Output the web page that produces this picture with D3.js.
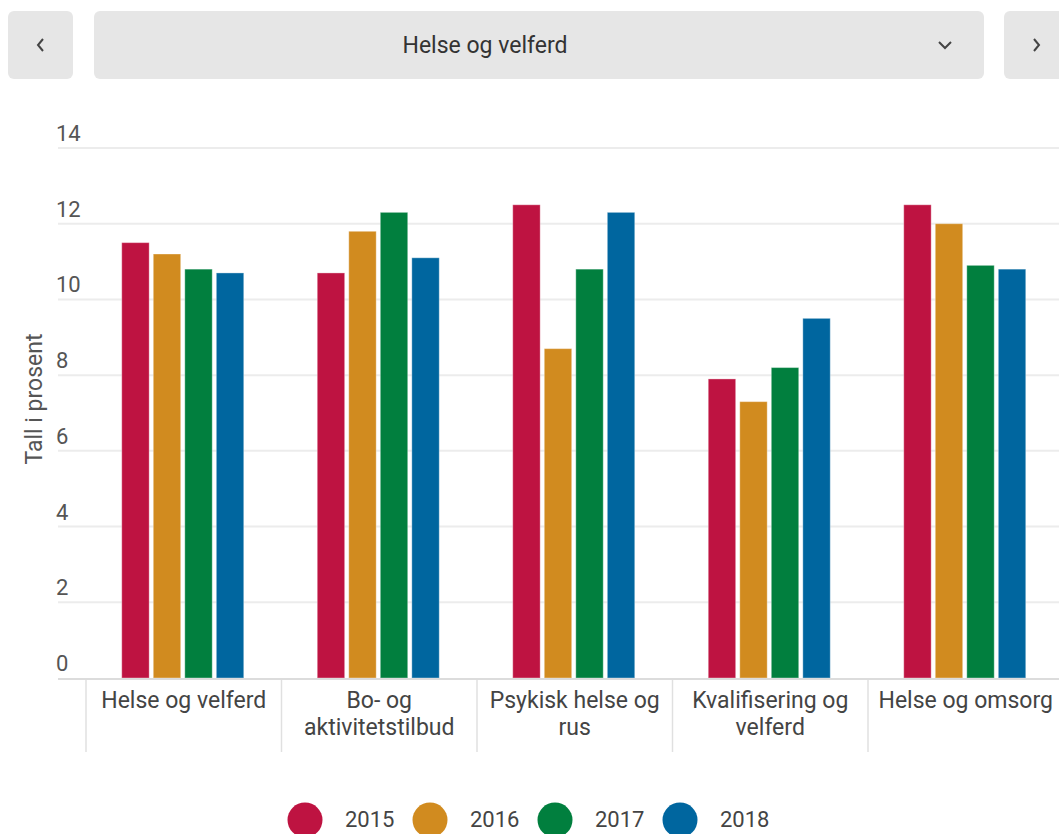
<!DOCTYPE html>
<html><head><meta charset="utf-8">
<script src="https://cdn.jsdelivr.net/npm/d3@7"></script>
<style>body{margin:0;background:#fff;overflow:hidden}svg{display:block;font-family:Roboto,sans-serif}</style>
</head><body>
<svg id="c" width="1059" height="834"></svg>
<script>
const categories = [["Helse og velferd"],["Bo- og","aktivitetstilbud"],["Psykisk helse og","rus"],["Kvalifisering og","velferd"],["Helse og omsorg"]];
const years = ["2015","2016","2017","2018"];
const v2015 = [11.5, 10.7, 12.5, 7.9, 12.5];
const v2016 = [11.2, 11.8, 8.7, 7.3, 12.0];
const v2017 = [10.8, 12.3, 10.8, 8.2, 10.9];
const v2018 = [10.7, 11.1, 12.3, 9.5, 10.8];
const yTicks = [0,2,4,6,8,10,12,14];
const colors = ["#be1341","#d18b1f","#017f3e","#00669f"];
const series = [v2015, v2016, v2017, v2018];

const svg = d3.select("#c");
// top controls
const ctrl = svg.append("g");
ctrl.append("rect").attr("x",8).attr("y",11).attr("width",65).attr("height",68).attr("rx",6).attr("fill","#e6e6e6");
ctrl.append("rect").attr("x",94).attr("y",11).attr("width",890).attr("height",68).attr("rx",6).attr("fill","#e6e6e6");
ctrl.append("rect").attr("x",1004).attr("y",11).attr("width",70).attr("height",68).attr("rx",6).attr("fill","#e6e6e6");
ctrl.append("text").attr("x",485).attr("y",53).attr("text-anchor","middle").attr("font-size",23).attr("fill","#333").text("Helse og velferd");
const chev = (pts)=>ctrl.append("path").attr("d",d3.line()(pts)).attr("fill","none").attr("stroke","#444").attr("stroke-width",2);
chev([[43,39],[38,45],[43,51]]);
chev([[1034,39],[1039,45],[1034,51]]);
chev([[939,42],[945,48],[951,42]]);

const x0 = d3.scaleBand().domain(d3.range(categories.length)).range([86, 1063.5]);
const x1 = d3.scaleBand().domain(d3.range(years.length)).range([0, 122]).paddingInner(0.13);
const y = d3.scaleLinear().domain([0,14]).range([678,148]);

// grid
svg.append("g").selectAll("line").data(yTicks.slice(1)).join("line")
  .attr("x1",58).attr("x2",1059).attr("y1",d=>y(d)).attr("y2",d=>y(d))
  .attr("stroke","#ececec").attr("stroke-width",2);
// y labels
svg.append("g").selectAll("text").data(yTicks).join("text")
  .attr("x",56).attr("y",d=>y(d)-7).attr("font-size",22).attr("fill","#555").text(d=>d);
// y title
svg.append("text").attr("transform","translate(42,399) rotate(-90)").attr("text-anchor","middle")
  .attr("font-size",23).attr("fill","#555").text("Tall i prosent");

// bars
const gs = svg.append("g").selectAll("g").data(categories).join("g")
  .attr("transform",(d,i)=>`translate(${x0(i)+x0.bandwidth()/2-62},0)`);
gs.selectAll("rect").data((d,i)=>series.map((s,k)=>({k,v:s[i]}))).join("rect")
  .attr("x",d=>x1(d.k)).attr("width",x1.bandwidth())
  .attr("y",d=>y(d.v)).attr("height",d=>y(0)-y(d.v))
  .attr("fill",d=>colors[d.k]).attr("stroke","rgba(255,255,255,0.35)").attr("stroke-width",1);

// x axis line
svg.append("line").attr("x1",58).attr("x2",1059).attr("y1",679).attr("y2",679).attr("stroke","#dcdcdc").attr("stroke-width",2);
// tick lines
svg.append("g").selectAll("line").data(d3.range(categories.length)).join("line")
  .attr("x1",d=>x0(d)).attr("x2",d=>x0(d)).attr("y1",680).attr("y2",752)
  .attr("stroke","#e0e0e0").attr("stroke-width",1.5);
// x labels
const xl = svg.append("g").selectAll("text").data(categories).join("text")
  .attr("x",(d,i)=>x0(i)+x0.bandwidth()/2).attr("y",708).attr("text-anchor","middle")
  .attr("font-size",23).attr("fill","#444");
xl.selectAll("tspan").data(d=>d).join("tspan")
  .attr("x",function(){return this.parentNode.getAttribute("x");})
  .attr("dy",(d,i)=>i?27:0).text(d=>d);

// legend
const lg = svg.append("g").selectAll("g").data(years).join("g")
  .attr("transform",(d,i)=>`translate(${305+i*125},820)`);
lg.append("circle").attr("r",17.5).attr("fill",(d,i)=>colors[i]);
lg.append("text").attr("x",40).attr("y",7).attr("font-size",22).attr("fill","#444").text(d=>d);
</script>
</body></html>
